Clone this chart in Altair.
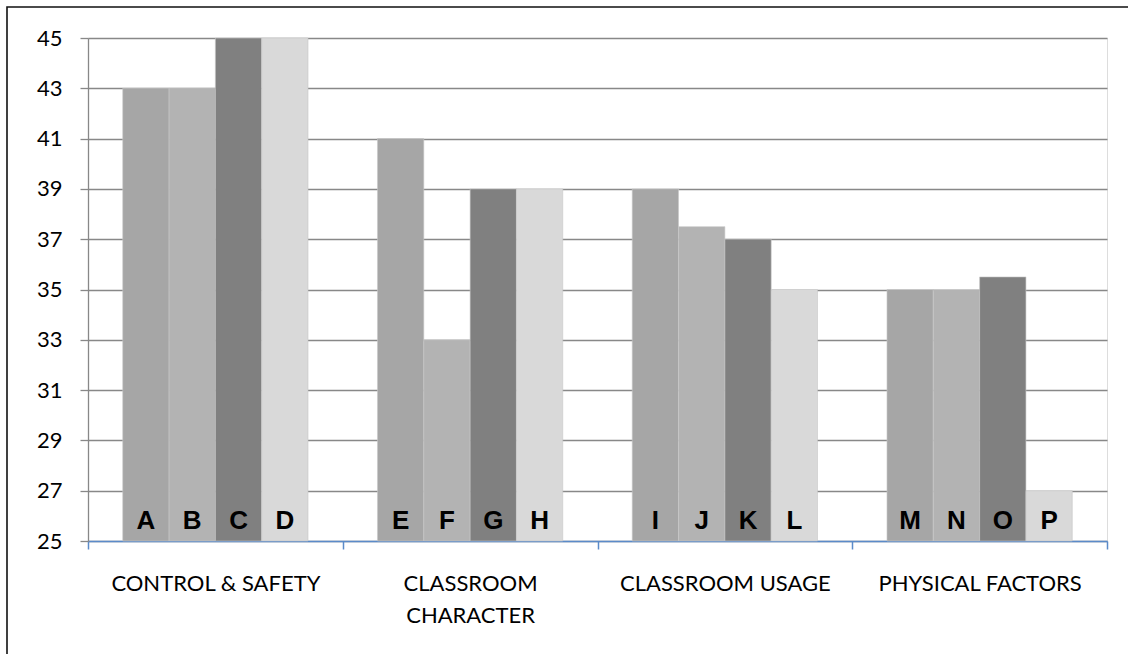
import altair as alt
import pandas as pd

categories = ["CONTROL & SAFETY", "CLASSROOM|CHARACTER", "CLASSROOM USAGE", "PHYSICAL FACTORS"]
series = ["s1", "s2", "s3", "s4"]
letters = [["A", "B", "C", "D"], ["E", "F", "G", "H"], ["I", "J", "K", "L"], ["M", "N", "O", "P"]]
values = [[43, 43, 45, 45], [41, 33, 39, 39], [39, 37.5, 37, 35], [35, 35, 35.5, 27]]
colors = ["#a6a6a6", "#b3b3b3", "#808080", "#d9d9d9"]
y_ticks = list(range(25, 46, 2))

rows = []
for ci, cat in enumerate(categories):
    for si, s in enumerate(series):
        rows.append({"category": cat, "series": s, "letter": letters[ci][si], "value": values[ci][si]})
df = pd.DataFrame(rows)

W, H = 1019, 503

x_enc = alt.X("category:N", sort=categories, title=None,
              scale=alt.Scale(paddingInner=0, paddingOuter=0),
              axis=alt.Axis(labelAngle=0, tickBand="extent", domainColor="#5b8bc9", tickColor="#5b8bc9",
                            domainWidth=1.5, tickWidth=1.5, tickSize=8, labelPadding=24,
                            labelFont="Lato", labelFontSize=22, labelColor="#000000", labelLimit=0,
                            labelLineHeight=32,
                            labelExpr="isValid(datum.value) ? split(datum.value, '|') : ''",
                            grid=False))
xo_enc = alt.XOffset("series:N", sort=series, scale=alt.Scale(paddingOuter=0.75, paddingInner=0))

bars = alt.Chart(df).mark_bar(stroke="#c8c8c8", strokeWidth=0.6).encode(
    x=x_enc,
    xOffset=xo_enc,
    y=alt.Y("value:Q", title=None,
            scale=alt.Scale(domain=[25, 45], nice=False, zero=False),
            axis=alt.Axis(values=y_ticks, grid=True, gridColor="#888888", gridWidth=1.3,
                          domainColor="#888888", domainWidth=1.3, tickColor="#888888", tickWidth=1.3,
                          tickSize=8, labelPadding=18, labelFont="Lato", labelFontSize=22,
                          labelColor="#000000")),
    y2=alt.datum(25),
    color=alt.Color("series:N", sort=series, scale=alt.Scale(domain=series, range=colors), legend=None),
)

text = alt.Chart(df).mark_text(font="Liberation Sans", fontWeight="bold", fontSize=26,
                               baseline="alphabetic", dy=-12, color="#000000").encode(
    x=alt.X("category:N", sort=categories),
    xOffset=alt.XOffset("series:N", sort=series),
    y=alt.datum(25),
    text="letter:N",
)

border = alt.Chart(pd.DataFrame({"k": [0]})).mark_rect(fill=None, stroke="#111111", strokeWidth=1.6).encode(
    x=alt.value(-81), x2=alt.value(1060), y=alt.value(-31), y2=alt.value(640)
)

chart = alt.layer(bars, text, border).properties(
    width=W, height=H,
    autosize=alt.AutoSizeParams(type="none"),
    padding={"left": 88, "top": 38, "right": 21, "bottom": 113},
).configure_view(stroke=None).configure(background="white")

chart.save("out.html", embed_options={"renderer": "svg", "actions": False})
